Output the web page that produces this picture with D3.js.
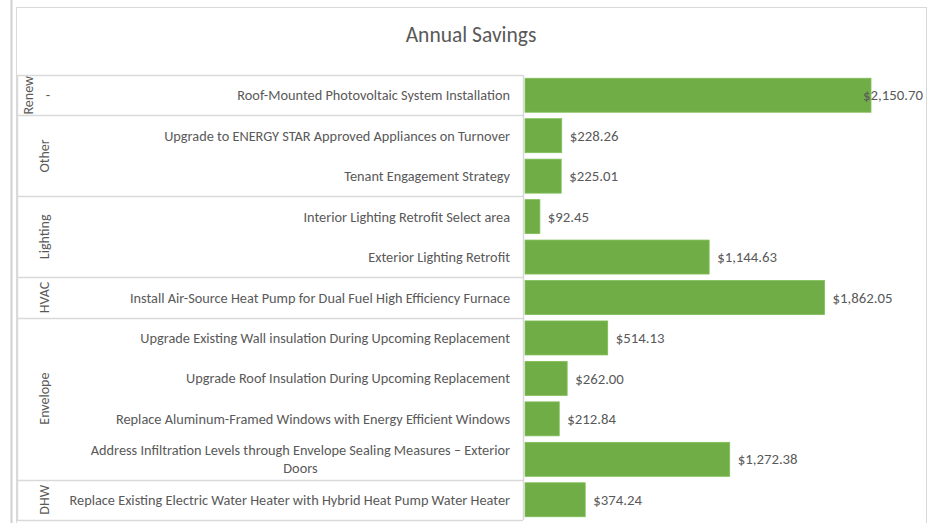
<!DOCTYPE html>
<html><head><meta charset="utf-8">
<script src="https://cdn.jsdelivr.net/npm/d3@7"></script>
<style>
html,body{margin:0;padding:0;background:#fff;}
svg{display:block;font-family:Carlito,Calibri,Lato,"Open Sans",sans-serif;}
</style></head>
<body><svg id="c" width="934" height="523"></svg>
<script>
const title = "Annual Savings";
const groups = ["Renew","Other","Other","Lighting","Lighting","HVAC","Envelope","Envelope","Envelope","Envelope","DHW"];
const subLabels = ["-","","","","","","","","","",""];
const measures = [
  "Roof-Mounted Photovoltaic System Installation",
  "Upgrade to ENERGY STAR Approved Appliances on Turnover",
  "Tenant Engagement Strategy",
  "Interior Lighting Retrofit Select area",
  "Exterior Lighting Retrofit",
  "Install Air-Source Heat Pump for Dual Fuel High Efficiency Furnace",
  "Upgrade Existing Wall insulation During Upcoming Replacement",
  "Upgrade Roof Insulation During Upcoming Replacement",
  "Replace Aluminum-Framed Windows with Energy Efficient Windows",
  "Address Infiltration Levels through Envelope Sealing Measures \u2013 Exterior\nDoors",
  "Replace Existing Electric Water Heater with Hybrid Heat Pump Water Heater"
];
const savings = [2150.70, 228.26, 225.01, 92.45, 1144.63, 1862.05, 514.13, 262.00, 212.84, 1272.38, 374.24];

const svg = d3.select("#c");
const W = 934, H = 523;
const frame = {l:16.5, t:7.5, r:926.5, b:540};
const table = {l:17, r:523, t:75, b:520};
const plotRight = 923;
const textCol = "#595959", lineCol = "#d9d9d9";
const fs = "14.3px";

// outer sheet line
svg.append("line").attr("x1",11.5).attr("x2",11.5).attr("y1",0).attr("y2",H)
  .attr("stroke","#d0d0d0").attr("stroke-width",2);
// chart frame
svg.append("rect").attr("x",frame.l).attr("y",frame.t)
  .attr("width",frame.r-frame.l).attr("height",frame.b-frame.t)
  .attr("fill","#fff").attr("stroke",lineCol).attr("stroke-width",1);

svg.append("text").attr("x",471).attr("y",42)
  .attr("text-anchor","middle").attr("fill",textCol)
  .style("font-size","21.5px").text(title);

const idx = d3.range(measures.length);
const y = d3.scaleBand().domain(idx).range([table.t, table.b]).paddingInner(0.16).paddingOuter(0.08);
const x = d3.scaleLinear().domain([0, d3.max(savings)]).range([525, 871]);
const step = y.step();
const rowTop = i => table.t + i*step;

// bars
svg.append("g").selectAll("rect").data(idx).join("rect")
  .attr("x", x(0)).attr("y", i => y(i))
  .attr("width", i => x(savings[i]) - x(0)).attr("height", y.bandwidth())
  .attr("fill","#70ad47").attr("stroke","#7fbf55").attr("stroke-width",0.8);

// table lines
const g = svg.append("g");
const runs = [];
idx.forEach(i => {
  if (i === 0 || groups[i] !== groups[i-1]) runs.push({name:groups[i], start:i, end:i});
  else runs[runs.length-1].end = i;
});
const bounds = runs.map(r => rowTop(r.start)).concat([table.b]);
g.selectAll("line.h").data(bounds).join("line").attr("class","h")
  .attr("x1",table.l).attr("x2",table.r).attr("y1",d=>Math.round(d)+0.5).attr("y2",d=>Math.round(d)+0.5)
  .attr("stroke",lineCol).attr("stroke-width",1.5);
[table.l, table.r].forEach(xx => g.append("line").attr("x1",xx+0.5).attr("x2",xx+0.5)
  .attr("y1",table.t).attr("y2",table.b).attr("stroke",lineCol).attr("stroke-width",1.5));

// group labels
g.selectAll("text.grp").data(runs).join("text").attr("class","grp")
  .attr("transform", r => {
    const cy = (rowTop(r.start) + rowTop(r.end+1))/2;
    const cx = (r.end === r.start && r.name.length > 4) ? 28 : 44;
    return `translate(${cx},${cy}) rotate(-90)`;
  })
  .attr("text-anchor","middle").attr("dy","0.35em").attr("fill",textCol)
  .style("font-size","14px").text(r => r.name);

// sub labels
g.selectAll("text.sub").data(idx.filter(i => subLabels[i])).join("text").attr("class","sub")
  .attr("x",48).attr("y", i => y(i) + y.bandwidth()/2).attr("dy","0.35em")
  .attr("text-anchor","middle").attr("fill",textCol).style("font-size",fs).text(i => subLabels[i]);

// measure labels
const labelRight = 510, lineH = 18;
idx.forEach(i => {
  const lines = measures[i].split("\n");
  const cy = y(i) + y.bandwidth()/2;
  const t = g.append("text").attr("fill",textCol).style("font-size",fs);
  const spans = lines.map((ln,k) => t.append("tspan").text(ln)
      .attr("y", cy + (k - (lines.length-1)/2)*lineH).attr("dy","0.35em"));
  if (lines.length === 1) {
    t.attr("text-anchor","end"); spans[0].attr("x",labelRight);
  } else {
    const wmax = d3.max(spans, s => s.node().getComputedTextLength());
    t.attr("text-anchor","middle");
    spans.forEach(s => s.attr("x", labelRight - wmax/2));
  }
});

// value labels
const fmt = d3.format("$,.2f");
const vl = svg.append("g");
idx.forEach(i => {
  const t = vl.append("text").attr("y", y(i)+y.bandwidth()/2).attr("dy","0.35em")
    .attr("fill",textCol).style("font-size","14.8px").text(fmt(savings[i]));
  const w = t.node().getComputedTextLength();
  t.attr("x", Math.min(x(savings[i]) + 8, plotRight - w));
});
</script></body></html>
